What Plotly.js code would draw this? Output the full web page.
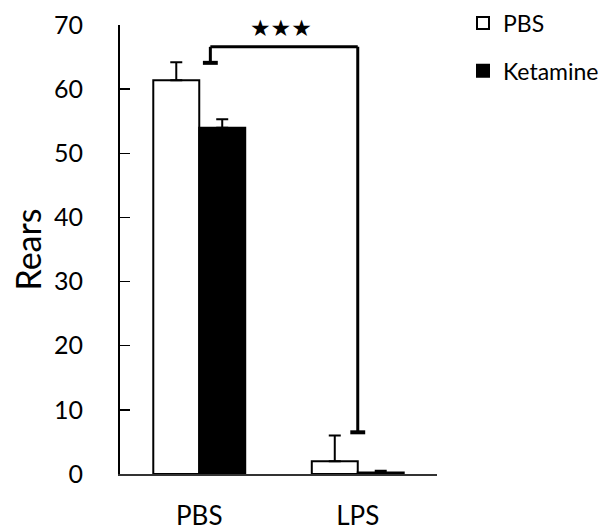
<!DOCTYPE html>
<html>
<head>
<meta charset="utf-8">
<script src="https://cdn.plot.ly/plotly-3.0.1.min.js"></script>
<style>html,body{margin:0;padding:0;background:#fff;}#chart{width:607px;height:532px;}</style>
</head>
<body>
<div id="chart"></div>
<script>
// ---- data ----
var categories = ["PBS", "LPS"];
var seriesNames = ["PBS", "Ketamine"];
var pbsValues = [61.4, 2.0];
var pbsErrors = [2.8, 4.0];
var ketamineValues = [54.0, 0.25];
var ketamineErrors = [1.3, 0.25];
var yTicks = [0, 10, 20, 30, 40, 50, 60, 70];
// significance bracket (category-index x, value y)
var bracketX = [0.07, 0.07, 1.0, 1.0];
var bracketY = [64.1, 66.6, 66.6, 6.5];
var bracketCapHalf = 0.047;
var sigLabel = "\u2605\u2605\u2605";
var sigX = 0.516;
var sigY = 69.6;

var FONT = "Lato, 'Open Sans', sans-serif";

var traces = [
  {
    type: "bar", name: seriesNames[0], x: categories, y: pbsValues,
    marker: {color: "#ffffff", line: {color: "#000000", width: 2}},
    error_y: {type: "data", symmetric: false, array: pbsErrors, arrayminus: [0, 0],
              color: "#000000", thickness: 2, width: 6},
    legend: "legend"
  },
  {
    type: "bar", name: seriesNames[1], x: categories, y: ketamineValues,
    marker: {color: "#000000", line: {color: "#000000", width: 2}},
    error_y: {type: "data", symmetric: false, array: ketamineErrors, arrayminus: [0, 0],
              color: "#000000", thickness: 2, width: 6},
    legend: "legend2"
  }
];

var shapes = [];
for (var i = 0; i < bracketX.length - 1; i++) {
  shapes.push({type: "line", xref: "x", yref: "y",
    x0: bracketX[i], y0: bracketY[i], x1: bracketX[i + 1], y1: bracketY[i + 1],
    line: {color: "#000000", width: 3}});
}
// caps at the two ends of the bracket
[0, bracketX.length - 1].forEach(function (k) {
  shapes.push({type: "line", xref: "x", yref: "y",
    x0: bracketX[k] - bracketCapHalf, y0: bracketY[k], x1: bracketX[k] + bracketCapHalf, y1: bracketY[k],
    line: {color: "#000000", width: 4}});
});

var layout = {
  width: 607, height: 532,
  margin: {l: 120, r: 170, t: 25, b: 58, pad: 0, autoexpand: false},
  paper_bgcolor: "#ffffff", plot_bgcolor: "#ffffff",
  font: {family: FONT, color: "#000000"},
  barmode: "group", bargap: 0.42, bargroupgap: 0,
  showlegend: true,
  xaxis: {
    type: "category", range: [-0.5, 1.5], showline: true, linecolor: "#333333", linewidth: 1.5,
    ticks: "", showgrid: false, zeroline: false, fixedrange: true,
    tickfont: {family: FONT, size: 26, color: "#000000"}, ticklabelstandoff: 18
  },
  yaxis: {
    range: [0, 70], tickvals: yTicks, ticktext: yTicks.map(String),
    showline: true, linecolor: "#000000", linewidth: 2,
    ticks: "inside", ticklen: 10, tickwidth: 1.5, tickcolor: "#000000",
    showgrid: false, zeroline: false, fixedrange: true,
    tickfont: {family: FONT, size: 25, color: "#000000"}, ticklabelstandoff: 30,
    title: {text: "Rears", font: {family: FONT, size: 34, color: "#000000"}, standoff: 2}
  },
  legend: {x: 1.082, y: 1.052, xanchor: "left", yanchor: "top", bgcolor: "rgba(0,0,0,0)",
           font: {family: FONT, size: 23, color: "#000000"}},
  legend2: {x: 1.082, y: 0.946, xanchor: "left", yanchor: "top", bgcolor: "rgba(0,0,0,0)",
           font: {family: FONT, size: 23, color: "#000000"}},
  shapes: shapes,
  annotations: [{xref: "x", yref: "y", x: sigX, y: sigY, text: sigLabel, showarrow: false,
                 font: {family: "DejaVu Sans", size: 23, color: "#000000"}}]
};

Plotly.newPlot("chart", traces, layout, {displayModeBar: false, staticPlot: true});
</script>
</body>
</html>
